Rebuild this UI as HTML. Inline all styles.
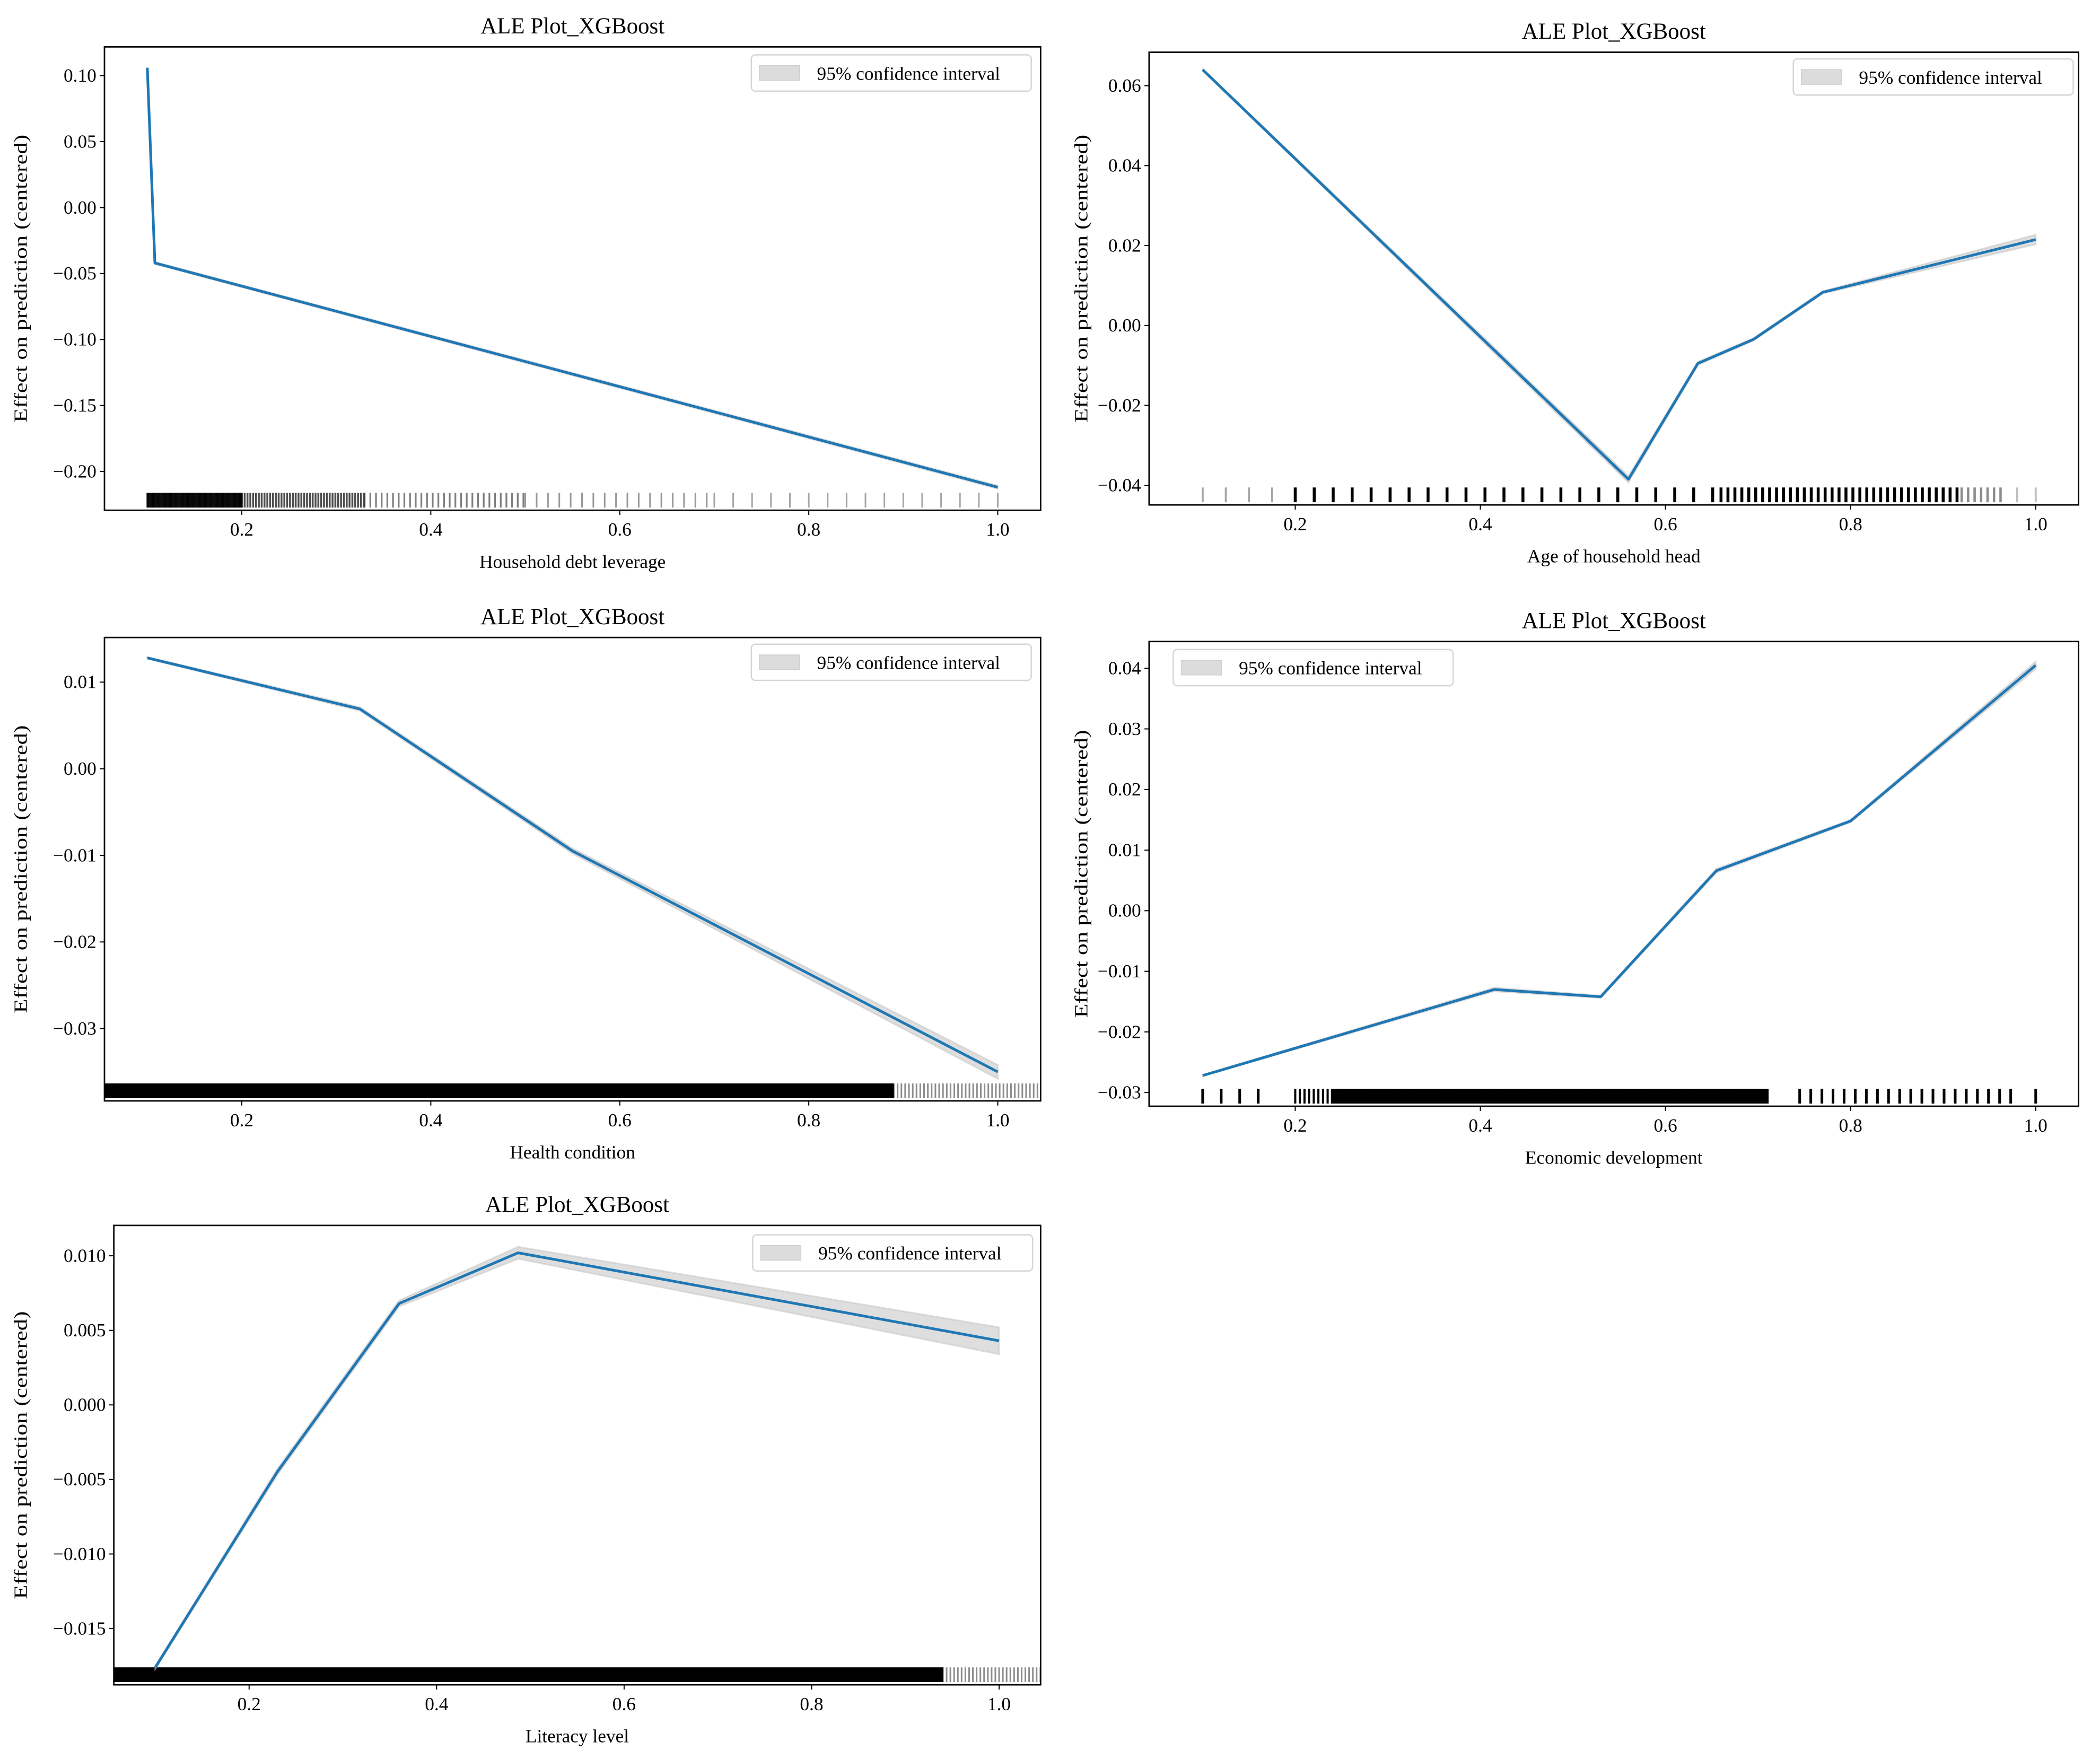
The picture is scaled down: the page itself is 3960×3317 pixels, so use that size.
<!DOCTYPE html>
<html><head><meta charset="utf-8"><style>
html,body{margin:0;padding:0;background:#fff;}
svg{display:block;}
text{font-family:"Liberation Serif","DejaVu Serif",serif;fill:#000;}
</style></head><body>
<svg id="fig" xmlns="http://www.w3.org/2000/svg" width="3960" height="3317" viewBox="0 0 1568 1313.4"></svg>
<script>
// ---- data ----
const p1X = [0.1, 0.108, 1.0];
const p1Y = [0.106, -0.042, -0.212];
const p1Ci = [0.0005, 0.0008, 0.0012];
const p2X = [0.1, 0.56, 0.635, 0.695, 0.77, 1.0];
const p2Y = [0.064, -0.0385, -0.0095, -0.0035, 0.0083, 0.0215];
const p2Ci = [0.0002, 0.0008, 0.0004, 0.0003, 0.0003, 0.0012];
const p3X = [0.1, 0.325, 0.55, 1.0];
const p3Y = [0.0128, 0.0069, -0.0095, -0.035];
const p3Ci = [0.0001, 0.0002, 0.0003, 0.0008];
const p4X = [0.1, 0.415, 0.53, 0.655, 0.8, 1.0];
const p4Y = [-0.0272, -0.013, -0.0142, 0.0066, 0.0148, 0.0405];
const p4Ci = [0.0001, 0.0003, 0.0002, 0.0003, 0.0002, 0.0006];
const p5X = [0.1, 0.23, 0.36, 0.487, 1.0];
const p5Y = [-0.0176, -0.0045, 0.0068, 0.0102, 0.0043];
const p5Ci = [0.0001, 0.0002, 0.0002, 0.0004, 0.0009];
const xTicks = [0.2, 0.4, 0.6, 0.8, 1.0];
const xTickLabels = ["0.2","0.4","0.6","0.8","1.0"];
const p1YTicks = [0.10,0.05,0.00,-0.05,-0.10,-0.15,-0.20];
const p1YLabels = ["0.10","0.05","0.00","\u22120.05","\u22120.10","\u22120.15","\u22120.20"];
const p2YTicks = [0.06,0.04,0.02,0.00,-0.02,-0.04];
const p2YLabels = ["0.06","0.04","0.02","0.00","\u22120.02","\u22120.04"];
const p3YTicks = [0.01,0.00,-0.01,-0.02,-0.03];
const p3YLabels = ["0.01","0.00","\u22120.01","\u22120.02","\u22120.03"];
const p4YTicks = [0.04,0.03,0.02,0.01,0.00,-0.01,-0.02,-0.03];
const p4YLabels = ["0.04","0.03","0.02","0.01","0.00","\u22120.01","\u22120.02","\u22120.03"];
const p5YTicks = [0.010,0.005,0.000,-0.005,-0.010,-0.015];
const p5YLabels = ["0.010","0.005","0.000","\u22120.005","\u22120.010","\u22120.015"];
// rug bands: [from, to, spacing, opacity, strokeWidth]
const p1Rug = [[0.1,0.2,0.001,0.9,1.2],[0.2,0.33,0.003,0.7,1.4],[0.33,0.5,0.006,0.5,1.3],[0.5,0.7,0.012,0.4,1.2],[0.7,1.0,0.02,0.35,1.2]];
const p2Rug = [[0.1,0.19,0.025,0.35,1.5],[0.2,0.66,0.0205,1,2.2],[0.66,0.92,0.0075,1,2.2],[0.92,0.965,0.007,0.45,1.8],[0.98,1.0,0.02,0.25,1.5]];
const p3Rug = [[0.055,0.89,0.0008,1,1],[0.89,1.046,0.004,0.45,1.2]];
const p4Rug = [[0.1,0.16,0.02,1,2],[0.2,0.24,0.005,1,1.6],[0.24,0.71,0.0025,1,2],[0.745,0.98,0.012,1,2],[1.0,1.0,1,1,2]];
const p5Rug = [[0.055,0.94,0.0008,1,1],[0.94,1.046,0.004,0.45,1.2]];

const NS = "http://www.w3.org/2000/svg";
const fig = document.getElementById('fig');
function mk(tag, attrs, parent){const e=document.createElementNS(NS,tag);for(const k in attrs)e.setAttribute(k,attrs[k]);(parent||fig).appendChild(e);return e;}

function panel(c){
  const g = mk('g',{});
  
  
  const sx = v => c.xa[1] + (v - c.xa[0]) * (c.xb[1]-c.xa[1])/(c.xb[0]-c.xa[0]);
  const sy = v => c.ya[1] + (v - c.ya[0]) * (c.yb[1]-c.ya[1])/(c.yb[0]-c.ya[0]);
  const [L,T,R,B] = c.box;
  const cid = c.name+'-clip';
  const cp = mk('clipPath',{id:cid},g); mk('rect',{x:L,y:T,width:R-L,height:B-T},cp);
  const inner = mk('g',{'clip-path':'url(#'+cid+')'},g);
  // rug
  const rug = mk('g',{},inner);
  
  
  c.rug.forEach(b=>{
    for(let v=b[0]; v<=b[1]+1e-9; v+=b[2]){
      const ln = mk('line',{x1:sx(v),x2:sx(v),y1:B-13,y2:B-2,stroke:'#000','stroke-width':b[4],'stroke-opacity':b[3]},rug);
      
      
    }
  });
  // CI band
  let d='';
  c.x.forEach((v,i)=>{d+=(i?'L':'M')+sx(v)+','+sy(c.y[i]+c.ci[i]);});
  for(let i=c.x.length-1;i>=0;i--) d+='L'+sx(c.x[i])+','+sy(c.y[i]-c.ci[i]);
  const band = mk('path',{d:d+'Z',fill:'#c8c8c8','fill-opacity':0.6,stroke:'#c8c8c8','stroke-width':1.2,'stroke-opacity':0.6},inner);
  
  
  // line
  const pts = c.x.map((v,i)=>sx(v)+','+sy(c.y[i])).join(' ');
  const pl = mk('polyline',{points:pts,fill:'none',stroke:'#1f77b4','stroke-width':2,'stroke-linejoin':'round'},inner);
  
  
  // frame
  const fr = mk('rect',{x:L,y:T,width:R-L,height:B-T,fill:'none',stroke:'#000','stroke-width':1.1},g);
  
  
  xTicks.forEach((v,i)=>{
    mk('line',{x1:sx(v),x2:sx(v),y1:B,y2:B+3.5,stroke:'#000','stroke-width':0.8},g);
    const t = mk('text',{x:sx(v),y:B+19,'font-size':14,'text-anchor':'middle'},g);
    t.textContent = xTickLabels[i];
    
    
  });
  c.yt.forEach((v,i)=>{
    mk('line',{x1:L-3.5,x2:L,y1:sy(v),y2:sy(v),stroke:'#000','stroke-width':0.8},g);
    const t = mk('text',{x:L-6,y:sy(v)+4.5,'font-size':14,'text-anchor':'end'},g);
    t.textContent = c.yl[i];
    
    
  });
  const tt = mk('text',{x:(L+R)/2,y:T-10,'font-size':17,'text-anchor':'middle'},g);
  tt.textContent = 'ALE Plot_XGBoost';
  
  
  const xl = mk('text',{x:(L+R)/2,y:B+43,'font-size':14,'text-anchor':'middle'},g);
  xl.textContent = c.xlabel;
  
  
  const yc=(T+B)/2, yx=c.ylx;
  const yl = mk('text',{x:yx,y:yc,'font-size':14,'text-anchor':'middle',transform:'rotate(-90 '+yx+' '+yc+')',textLength:215,lengthAdjust:'spacingAndGlyphs'},g);
  yl.textContent = 'Effect on prediction (centered)';
  
  
  const [lx,ly] = c.leg;
  const lg = mk('g',{},g);
  
  
  mk('rect',{x:lx,y:ly,width:209,height:27,rx:3,fill:'#fff','fill-opacity':0.8,stroke:'#d6d6d6','stroke-width':1},lg);
  const sw = mk('rect',{x:lx+6,y:ly+8,width:30,height:11,fill:'#dcdcdc',stroke:'#cfcfcf','stroke-width':0.6},lg);
  
  
  const lt = mk('text',{x:lx+49,y:ly+18.5,'font-size':14},lg);
  lt.textContent = '95% confidence interval';
  
  
}

panel({name:'panel-debt-leverage',box:[78,35,777,381],xa:[0.1,110],xb:[1.0,745],ya:[0,155],yb:[-0.2,352],
  x:p1X,y:p1Y,ci:p1Ci,yt:p1YTicks,yl:p1YLabels,rug:p1Rug,xlabel:'Household debt leverage',ylx:20,leg:[561,41]});
panel({name:'panel-age-head',box:[858,39,1552,377],xa:[0.1,898],xb:[1.0,1520],ya:[0,243],yb:[0.06,64],
  x:p2X,y:p2Y,ci:p2Ci,yt:p2YTicks,yl:p2YLabels,rug:p2Rug,xlabel:'Age of household head',ylx:812,leg:[1339,44]});
panel({name:'panel-health',box:[78,476,777,822],xa:[0.1,110],xb:[1.0,745],ya:[0,574],yb:[-0.03,768],
  x:p3X,y:p3Y,ci:p3Ci,yt:p3YTicks,yl:p3YLabels,rug:p3Rug,xlabel:'Health condition',ylx:20,leg:[561,481]});
panel({name:'panel-economic',box:[858,479,1552,826],xa:[0.1,898],xb:[1.0,1520],ya:[0,680],yb:[0.04,499],
  x:p4X,y:p4Y,ci:p4Ci,yt:p4YTicks,yl:p4YLabels,rug:p4Rug,xlabel:'Economic development',ylx:812,leg:[876,485]});
panel({name:'panel-literacy',box:[85,915,777,1258],xa:[0.1,116],xb:[1.0,746],ya:[0,1049],yb:[-0.015,1216],
  x:p5X,y:p5Y,ci:p5Ci,yt:p5YTicks,yl:p5YLabels,rug:p5Rug,xlabel:'Literacy level',ylx:20,leg:[562,922]});
</script>
</body></html>
